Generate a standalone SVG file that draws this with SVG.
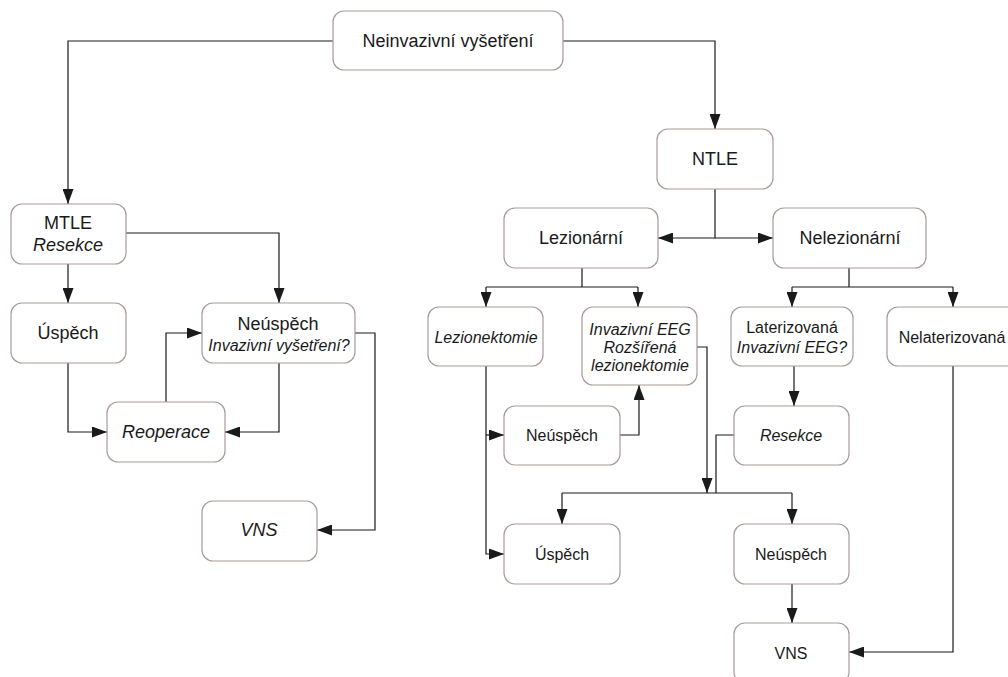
<svg xmlns="http://www.w3.org/2000/svg" width="1008" height="677" viewBox="0 0 1008 677">
<defs>
<marker id="ah" markerWidth="15" markerHeight="11" refX="15" refY="5.5" orient="auto" markerUnits="userSpaceOnUse">
<path d="M0,0 L15,5.5 L0,11 z" fill="#1a1a1a"/>
</marker>
<style>
.box{fill:#ffffff;stroke:#a89c98;stroke-width:1.2}
.t{font-family:"Liberation Sans",Arial,sans-serif;fill:#1a1a1a;text-anchor:middle;dominant-baseline:central}
.l{font-size:18px}
.s{font-size:16px}
.i{font-style:italic}
.c{fill:none;stroke:#1a1a1a;stroke-width:1.2}
.a{marker-end:url(#ah)}
</style>
</defs>
<rect width="1008" height="677" fill="#ffffff"/>
<g id="connectors">
<path class="c a" d="M333,41 H68 V204"/>
<path class="c a" d="M563,41 H715 V129"/>
<path class="c a" d="M68,264 V303"/>
<path class="c a" d="M126,233 H279 V303"/>
<path class="c a" d="M68,363 V432 H107"/>
<path class="c a" d="M166,402 V333 H202"/>
<path class="c a" d="M279,363 V432 H225"/>
<path class="c a" d="M355,333 H375 V530 H317"/>
<path class="c a" d="M715,189 V238 H658"/>
<path class="c a" d="M715,238 H773"/>
<path class="c" d="M582,268 V287 M486,287 H638"/>
<path class="c a" d="M486,287 V307"/>
<path class="c a" d="M638,287 V307"/>
<path class="c" d="M849,268 V287 M792,287 H953"/>
<path class="c a" d="M792,287 V307"/>
<path class="c a" d="M953,287 V307"/>
<path class="c a" d="M486,366 V554 H504"/>
<path class="c a" d="M486,435 H504"/>
<path class="c a" d="M620,435 H639 V385"/>
<path class="c a" d="M697,347 H707 V493"/>
<path class="c" d="M562,493 H792 M734,435 H716 V493"/>
<path class="c a" d="M562,493 V524"/>
<path class="c a" d="M792,493 V524"/>
<path class="c a" d="M794,366 V406"/>
<path class="c a" d="M792,584 V623"/>
<path class="c a" d="M953,366 V652 H849"/>
</g>
<g id="n-neinvazivni"><rect class="box" x="333" y="11" width="230" height="59" rx="11"/><text class="t l" x="448" y="41">Neinvazivní vyšetření</text></g>
<g id="n-ntle"><rect class="box" x="657" y="129" width="116" height="60" rx="11"/><text class="t l" x="715" y="159">NTLE</text></g>
<g id="n-mtle"><rect class="box" x="11" y="204" width="115" height="60" rx="11"/><text class="t l" x="68" y="223">MTLE</text><text class="t l i" x="68" y="245">Resekce</text></g>
<g id="n-uspech-l"><rect class="box" x="11" y="303" width="115" height="60" rx="11"/><text class="t l" x="68" y="333">Úspěch</text></g>
<g id="n-neuspech-l"><rect class="box" x="202" y="303" width="153" height="60" rx="11"/><text class="t l" x="278" y="324">Neúspěch</text><text class="t s i" x="279" y="345">Invazivní vyšetření?</text></g>
<g id="n-reoperace"><rect class="box" x="107" y="402" width="118" height="60" rx="11"/><text class="t l i" x="166" y="432">Reoperace</text></g>
<g id="n-vns-l"><rect class="box" x="202" y="501" width="115" height="60" rx="11"/><text class="t l i" x="259" y="530">VNS</text></g>
<g id="n-lezionarni"><rect class="box" x="504" y="208" width="154" height="60" rx="11"/><text class="t l" x="581" y="238">Lezionární</text></g>
<g id="n-nelezionarni"><rect class="box" x="773" y="208" width="153" height="60" rx="11"/><text class="t l" x="850" y="238">Nelezionární</text></g>
<g id="n-lezionektomie"><rect class="box" x="428" y="307" width="115" height="59" rx="11"/><text class="t s i" x="486" y="337">Lezionektomie</text></g>
<g id="n-invazivni-eeg"><rect class="box" x="582" y="307" width="115" height="78" rx="11"/><text class="t s i" x="640" y="329">Invazivní EEG</text><text class="t s i" x="640" y="347">Rozšířená</text><text class="t s i" x="640" y="365">lezionektomie</text></g>
<g id="n-laterizovana"><rect class="box" x="731" y="307" width="122" height="59" rx="11"/><text class="t s" x="792" y="327">Laterizovaná</text><text class="t s i" x="792" y="347">Invazivní EEG?</text></g>
<g id="n-nelaterizovana"><rect class="box" x="887" y="307" width="132" height="59" rx="11"/><text class="t s" x="952" y="337">Nelaterizovaná</text></g>
<g id="n-neuspech-m"><rect class="box" x="504" y="406" width="116" height="59" rx="11"/><text class="t s" x="562" y="435">Neúspěch</text></g>
<g id="n-uspech-m"><rect class="box" x="504" y="524" width="116" height="60" rx="11"/><text class="t s" x="562" y="554">Úspěch</text></g>
<g id="n-resekce"><rect class="box" x="734" y="406" width="115" height="59" rx="11"/><text class="t s i" x="791" y="435">Resekce</text></g>
<g id="n-neuspech-r"><rect class="box" x="734" y="524" width="115" height="60" rx="11"/><text class="t s" x="791" y="554">Neúspěch</text></g>
<g id="n-vns-r"><rect class="box" x="734" y="623" width="115" height="60" rx="11"/><text class="t s" x="791" y="653">VNS</text></g>
</svg>
